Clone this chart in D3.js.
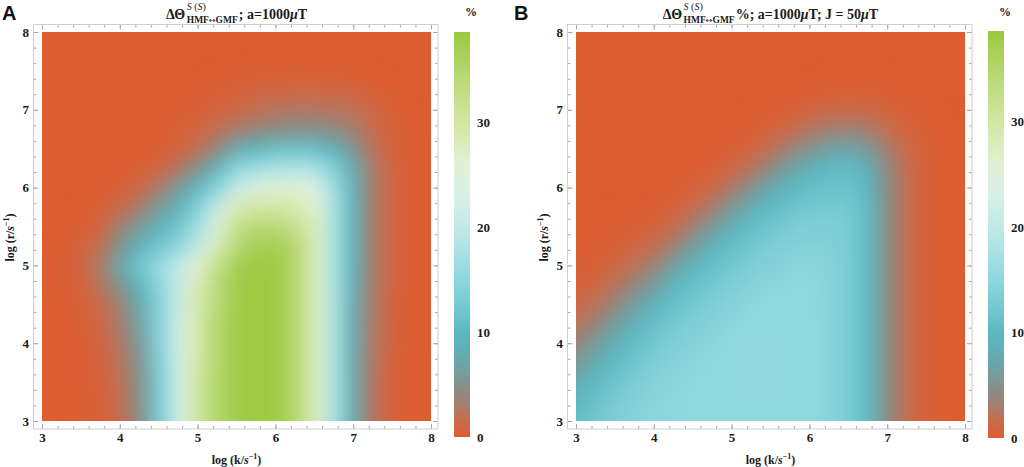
<!DOCTYPE html>
<html><head><meta charset="utf-8">
<script src="https://cdn.jsdelivr.net/npm/d3@7"></script>
<style>body{margin:0;background:#fff}svg{display:block}</style>
</head><body>
<svg id="chart" width="1024" height="467"></svg>
<script>
// ---------- data ----------
const kTicks = [3,4,5,6,7,8];
const rTicks = [3,4,5,6,7,8];
const barTicks = [0,10,20,30];
const gridK = [3,3.25,3.5,3.75,4,4.25,4.5,4.75,5,5.25,5.5,5.75,6,6.25,6.5,6.75,7,7.25,7.5,7.75,8];
const gridR = [8,7.75,7.5,7.25,7,6.75,6.5,6.25,6,5.75,5.5,5.25,5,4.75,4.5,4.25,4,3.75,3.5,3.25,3];

// panel A: ΔΘ (%) rows from log r = 8 (top) to 3 (bottom), columns log k = 3..8
const valuesA = [
[0,0,0,0,0,0,0,0,0,0,0,0,0,0,0,0,0,0,0,0,0],
[0,0,0,0,0,0,0,0,0,0,0,0.1,0.1,0.1,0.1,0.1,0,0,0,0,0],
[0,0,0,0,0,0,0,0,0,0.1,0.2,0.3,0.4,0.4,0.4,0.3,0.2,0.1,0,0,0],
[0,0,0,0,0,0,0,0.1,0.2,0.4,0.6,0.9,1.1,1.2,1.2,1.1,0.9,0.5,0.2,0,0],
[0,0,0,0,0,0,0,0.2,0.4,0.7,1.2,1.8,2.3,2.5,2.5,2.3,2,1.2,0.5,0.1,0],
[0,0,0,0,0,0,0.2,0.5,1,2,3,4,4.5,5,5,4.5,3.2,1.6,0.6,0.1,0],
[0,0,0,0,0,0.1,0.3,0.8,2,4,8,10,11,11.5,11,9,5.5,2.2,0.8,0.2,0],
[0,0,0,0,0.1,0.4,1,2.5,5,10,15,17,18,18.5,18,14,8,3,1,0.2,0],
[0,0,0,0.1,0.5,1.2,3,6,10,15,21,24,25.5,26,24,17,9,3,1,0.2,0],
[0,0,0.1,0.5,1.5,3,6,9,14,21,28,30,30,29,26,18,9,3,1,0.2,0],
[0,0.1,0.3,1,3.5,6,9,12,17,25,32,34,34,32,28,18,9,3,1,0.2,0],
[0,0.2,0.7,2,5.5,9,12,15,20,28,34,37,37,35,28,18,9,3,1,0.2,0],
[0.1,0.3,1,3,7.5,12,16,20,26,32,37,38,38,35,28,18,9,3,1,0.2,0],
[0.1,0.3,0.8,2.3,5.5,10,15,21,28,34,37.5,38.5,38,35,28,18,8.5,3,1,0.2,0],
[0,0.2,0.5,1.5,3.5,7.5,14,21,29,34,37.5,38.5,38,35,28,18,8,3,0.8,0.2,0],
[0,0.1,0.4,1.2,3,7,14,22,29,35,37.5,38.5,38,35,28,18,8,2.8,0.8,0.2,0],
[0,0.1,0.3,0.8,2.5,6,14,22,29,35,37.5,38.5,38,35,28,18,8,2.8,0.8,0.2,0],
[0,0.1,0.3,0.8,2.2,5.5,13.5,22,29.5,35,37.5,38.5,38,35,28,18,8,2.6,0.6,0.1,0],
[0,0.1,0.2,0.6,2,5,13,22,30,35,37.5,38.5,38,35,28,18,8,2.5,0.5,0.1,0],
[0,0,0.2,0.5,1.8,5,13,22,30,35,37.5,38.5,38,35,28,18,8,2.5,0.5,0.1,0],
[0,0,0.2,0.4,1.5,4.5,13,22,30,35,37.5,38.5,38,35,28,18,8,2.5,0.5,0.1,0]
];

// panel B
const valuesB = [
[0,0,0,0,0,0,0,0,0,0,0,0,0,0,0,0,0,0,0,0,0],
[0,0,0,0,0,0,0,0,0,0,0,0,0,0,0,0,0,0,0,0,0],
[0,0,0,0,0,0,0,0,0,0,0,0,0,0.1,0.15,0.1,0.1,0,0,0,0],
[0,0,0,0,0,0,0,0,0,0,0,0.1,0.3,0.4,0.5,0.4,0.3,0.15,0.1,0,0],
[0,0,0,0,0,0,0,0,0,0.1,0.2,0.5,0.9,1.2,1.4,1.2,0.8,0.4,0.2,0.05,0],
[0,0,0,0,0,0,0,0,0.1,0.3,0.7,1.5,2.4,3.2,3.6,3,1.8,0.9,0.35,0.1,0],
[0,0,0,0,0,0,0,0.15,0.4,0.9,2,3.6,5.2,6.8,7.2,5.8,3.2,1.4,0.5,0.15,0],
[0,0,0,0,0,0,0.2,0.5,1.1,2.4,4.3,6.8,8.7,10.2,10.6,8.5,4.3,1.8,0.5,0.15,0],
[0,0,0,0,0.1,0.2,0.6,1.3,2.8,5,7.8,9.8,11,11.5,11.6,10,4.8,1.8,0.5,0.15,0],
[0,0,0.1,0.15,0.25,0.6,1.5,3,5.6,8.4,10.4,11.6,12.4,12.6,12.6,10.5,4.8,1.8,0.5,0.15,0],
[0,0.1,0.2,0.4,0.7,1.6,3.4,5.8,9,10.7,12,13,13.5,13.5,13,10.5,4.8,1.8,0.5,0.15,0],
[0.1,0.2,0.5,1,1.8,3.5,6.2,9,11,12.3,13.2,13.9,14.2,14.1,13,10.5,4.8,1.8,0.5,0.15,0],
[0.2,0.5,1.1,2.2,3.6,6.4,9.4,11,12.4,13.4,14,14.5,14.7,14.4,13,10.5,4.8,1.8,0.5,0.15,0],
[0.5,1.1,2.3,4,6.2,9.5,11.2,12.3,13.5,14.1,14.6,15,15,14.5,13,10.5,4.8,1.8,0.5,0.15,0],
[1.1,2.2,4,6.4,9.2,11,12.5,13.4,14.2,14.8,15.2,15.3,15.1,14.5,13,10.5,4.8,1.8,0.5,0.15,0],
[2.2,3.9,6.2,9,11.1,12.5,13.5,14.1,14.8,15.2,15.4,15.4,15.2,14.5,13,10.5,4.8,1.8,0.5,0.15,0],
[3.8,6,8.5,10.8,12.4,13.5,14.1,14.6,15.2,15.4,15.5,15.4,15.2,14.5,13,10.5,4.8,1.8,0.5,0.15,0],
[5.8,8.2,10.4,12,13.4,14.2,14.6,15,15.3,15.4,15.5,15.4,15.2,14.5,13,10.5,4.8,1.8,0.5,0.15,0],
[8,10.2,11.8,13.2,14.1,14.6,14.9,15.2,15.3,15.4,15.5,15.4,15.2,14.5,13,10.5,4.8,1.8,0.5,0.15,0],
[9.8,11.5,12.9,13.9,14.5,14.9,15.1,15.3,15.3,15.4,15.4,15.4,15.2,14.5,13,10.5,4.8,1.8,0.5,0.15,0],
[10.8,12.4,13.6,14.3,14.8,15,15.2,15.3,15.3,15.4,15.4,15.4,15.2,14.5,13,10.5,4.8,1.8,0.5,0.15,0]
];

const colorVals = [0,1.5,3,4.5,6.5,8.5,10,12,15,18,20,23,26,29.5,34,38.6];
const colorHex = ["#de5c2f","#ca6a4a","#a87e6e","#8a8c84","#72a0a2","#60b0b8","#5cb7c1","#70c6ce","#8ed7de","#aee3e4","#c2e9e6","#d8f0e8","#e2f0d4","#d6e8a8","#bbd97a","#9bc93e"];
const barMax = 38.6;

// ---------- drawing ----------
const svg = d3.select("#chart");
const defs = svg.append("defs");
const color = d3.scaleLinear().domain(colorVals).range(colorHex).interpolate(d3.interpolateRgb).clamp(true);
const SERIF = "'Liberation Serif','Times New Roman',serif";

function drawTitle(cx, extra) {
  const g = svg.append("g").attr("font-family", SERIF).attr("font-weight", "bold").attr("fill", "#1a1a1a");
  const t1 = g.append("text").attr("x", 0).attr("y", 19).attr("font-size", 14).text("ΔΘ");
  const w1 = t1.node().getComputedTextLength() + 1.5;
  const sup = g.append("text").attr("x", w1).attr("y", 10).attr("font-size", 10).attr("font-weight", "normal");
  sup.append("tspan").attr("font-style", "italic").text("S");
  sup.append("tspan").text(" (");
  sup.append("tspan").attr("font-style", "italic").text("S");
  sup.append("tspan").text(")");
  const sub = g.append("text").attr("x", w1).attr("y", 22.5).attr("font-size", 9.5);
  sub.append("tspan").text("HMF");
  sub.append("tspan").attr("font-family", "'DejaVu Sans',sans-serif").attr("font-size", 8).attr("font-weight", "normal").text("↔");
  sub.append("tspan").text("GMF");
  const w2 = Math.max(sup.node().getComputedTextLength(), sub.node().getComputedTextLength());
  const rest = g.append("text").attr("x", w1 + w2 + 1).attr("y", 19).attr("font-size", 14);
  extra.forEach(p => { const ts = rest.append("tspan").text(p.t); if (p.i) ts.attr("font-style", "italic"); });
  const W = w1 + w2 + 1 + rest.node().getComputedTextLength();
  g.attr("transform", `translate(${cx - W / 2},0)`);
}

function styleAxis(sel) {
  sel.select(".domain").remove();
  sel.selectAll(".tick line").attr("stroke", "#a8a8a8");
  sel.selectAll(".tick text").attr("font-family", SERIF).attr("font-weight", "bold").attr("font-size", 13).attr("fill", "#1a1a1a");
}

function drawPanel(cfg) {
  const x = d3.scaleLinear().domain([3, 8]).range([cfg.left, cfg.left + cfg.size]);
  const y = d3.scaleLinear().domain([3, 8]).range([cfg.top + cfg.size, cfg.top]);

  // heatmap
  const clipId = "clip" + cfg.id, blurId = "blur" + cfg.id;
  defs.append("clipPath").attr("id", clipId).append("rect")
    .attr("x", x(3)).attr("y", y(8)).attr("width", x(8) - x(3)).attr("height", y(3) - y(8));
  defs.append("filter").attr("id", blurId).attr("filterUnits", "userSpaceOnUse")
    .attr("x", x(3) - 80).attr("y", y(8) - 80).attr("width", x(8) - x(3) + 160).attr("height", y(3) - y(8) + 160)
    .attr("color-interpolation-filters", "sRGB")
    .append("feGaussianBlur").attr("stdDeviation", 9);
  const cells = [];
  cfg.values.forEach((row, ri) => row.forEach((v, ci) => cells.push({ k: gridK[ci], r: gridR[ri], v, ci, ri })));
  const half = 0.125, ext = 50, lastC = gridK.length - 1, lastR = gridR.length - 1;
  svg.append("g").attr("clip-path", `url(#${clipId})`)
    .append("g").attr("filter", `url(#${blurId})`)
    .selectAll("rect").data(cells).join("rect")
    .attr("x", d => x(d.k - half) - (d.ci === 0 ? ext : 0))
    .attr("width", d => x(d.k + half) - x(d.k - half) + 0.6 + (d.ci === 0 ? ext : 0) + (d.ci === lastC ? ext : 0))
    .attr("y", d => y(d.r + half) - (d.ri === 0 ? ext : 0))
    .attr("height", d => y(d.r - half) - y(d.r + half) + 0.6 + (d.ri === 0 ? ext : 0) + (d.ri === lastR ? ext : 0))
    .attr("fill", d => color(d.v));

  // frame & ticks
  const fL = x(3) - 8.5, fR = x(8) + 7, fT = y(8) - 7.5, fB = y(3) + 8;
  const minor = x.ticks(25);
  const axes = svg.append("g");
  const mk = (gen, tx, ty) => axes.append("g").attr("transform", `translate(${tx},${ty})`).call(gen).call(styleAxis);
  mk(d3.axisBottom(x).tickValues(minor).tickFormat("").tickSize(-3), 0, fB);
  mk(d3.axisBottom(x).tickValues(kTicks).tickFormat(d3.format("d")).tickSize(-5).tickPadding(4), 0, fB);
  mk(d3.axisTop(x).tickValues(minor).tickFormat("").tickSize(-3), 0, fT);
  mk(d3.axisTop(x).tickValues(kTicks).tickFormat("").tickSize(-5), 0, fT);
  mk(d3.axisLeft(y).tickValues(minor).tickFormat("").tickSize(-3), fL, 0);
  mk(d3.axisLeft(y).tickValues(rTicks).tickFormat(d3.format("d")).tickSize(-5).tickPadding(4.5), fL, 0);
  mk(d3.axisRight(y).tickValues(minor).tickFormat("").tickSize(-3), fR, 0);
  mk(d3.axisRight(y).tickValues(rTicks).tickFormat("").tickSize(-5), fR, 0);
  axes.append("rect").attr("x", fL).attr("y", fT).attr("width", fR - fL).attr("height", fB - fT)
    .attr("fill", "none").attr("stroke", "#cfcfcf").attr("stroke-width", 1);

  // axis titles
  const xt = svg.append("text").attr("x", (x(3) + x(8)) / 2).attr("y", 464).attr("text-anchor", "middle")
    .attr("font-family", SERIF).attr("font-weight", "bold").attr("font-size", 12).attr("fill", "#1a1a1a");
  xt.append("tspan").text("log (k/");
  xt.append("tspan").attr("font-style", "italic").text("s");
  xt.append("tspan").attr("font-size", 8).attr("dy", -5).text("−1");
  xt.append("tspan").attr("dy", 5).text(")");
  const yt = svg.append("text").attr("transform", `translate(${cfg.yTitleX},${(y(3) + y(8)) / 2 + 11}) rotate(-90)`)
    .attr("text-anchor", "middle")
    .attr("font-family", SERIF).attr("font-weight", "bold").attr("font-size", 12).attr("fill", "#1a1a1a");
  yt.append("tspan").text("log (r/");
  yt.append("tspan").attr("font-style", "italic").text("s");
  yt.append("tspan").attr("font-size", 8).attr("dy", -5).text("−1");
  yt.append("tspan").attr("dy", 5).text(")");

  // colorbar
  const cb = d3.scaleLinear().domain([0, barMax]).range([cfg.barBottom, cfg.barTop]);
  const gid = "grad" + cfg.id;
  const grad = defs.append("linearGradient").attr("id", gid).attr("x1", 0).attr("y1", 1).attr("x2", 0).attr("y2", 0);
  colorVals.forEach((v, i) => grad.append("stop").attr("offset", v / barMax).attr("stop-color", colorHex[i]));
  svg.append("rect").attr("x", cfg.barX).attr("y", cfg.barTop).attr("width", 16).attr("height", cfg.barBottom - cfg.barTop)
    .attr("fill", `url(#${gid})`);
  svg.append("g").attr("transform", `translate(${cfg.barX + 16},0)`)
    .call(d3.axisRight(cb).tickValues(barTicks).tickSize(0).tickPadding(7)).call(styleAxis);
  svg.append("text").attr("x", cfg.barX + 11).attr("y", 16).attr("font-family", SERIF).attr("font-weight", "bold")
    .attr("font-size", 12).attr("fill", "#1a1a1a").text("%");

  // panel letter
  svg.append("text").attr("x", cfg.letterX).attr("y", 20).attr("font-family", "'Liberation Sans',Arial,sans-serif")
    .attr("font-weight", "bold").attr("font-size", 20).attr("fill", "#111").text(cfg.letter);

  drawTitle((x(3) + x(8)) / 2, cfg.title);
}

drawPanel({ id: "A", left: 42, top: 32, size: 389, values: valuesA, barX: 454, barTop: 32, barBottom: 437,
  letter: "A", letterX: 2, yTitleX: 14,
  title: [{ t: "; a=1000" }, { t: "μ", i: true }, { t: "T" }] });
drawPanel({ id: "B", left: 576, top: 32, size: 389, values: valuesB, barX: 988, barTop: 31, barBottom: 438,
  letter: "B", letterX: 514, yTitleX: 548,
  title: [{ t: " %; a=1000" }, { t: "μ", i: true }, { t: "T; J = 50" }, { t: "μ", i: true }, { t: "T" }] });
</script>
</body></html>
